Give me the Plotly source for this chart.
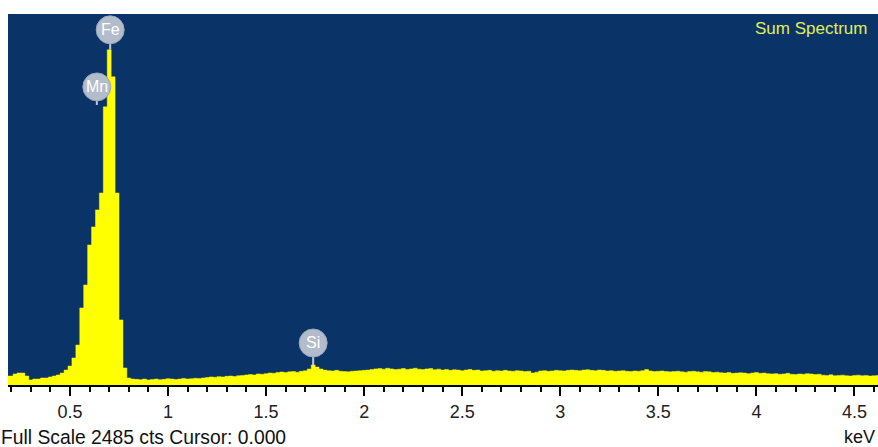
import plotly.graph_objects as go

# EDS sum spectrum, 20 eV channels
channel_start_kev = 0.18
channel_width_kev = 0.02
full_scale_cts = 2485

counts = [
    60, 60, 74, 80, 80, 60, 34, 40, 40, 47,
    47, 54, 60, 67, 80, 100, 127, 181, 268, 516,
    670, 938, 1059, 1173, 1286, 1863, 2245, 2064, 1286, 436,
    114, 47,
    40, 38, 36, 40, 34, 37, 40, 36, 38, 42, 40, 37, 40, 44, 40, 42, 45, 43, 47,
    50, 54, 52, 56, 54, 58, 60, 57, 62, 64,
    67, 70, 67, 74, 72, 76, 80, 78, 84,
    87, 84, 88, 90, 86, 92, 95,
    107, 134, 120, 107,
    100, 96, 94, 98, 92, 90, 88, 92, 94, 96,
    98, 100, 104, 108, 110, 106, 112, 108, 104,
    106, 110, 104, 108, 112, 106, 104, 108, 110, 102, 106,
    100, 104, 98, 102, 100, 96, 100, 104, 98, 100,
    94, 96, 98, 92, 96, 94, 98, 94, 92, 96, 94, 90, 92,
    80,
    86, 94, 96, 92, 94, 98, 96, 94, 98,
    100, 98, 96, 100, 102, 98, 96, 100, 98,
    94, 96, 92, 94, 96, 92, 90, 94,
    92, 96, 104, 94, 90, 92, 94, 90,
    88, 90, 92, 88, 86, 90, 92, 88, 86, 90, 88, 84, 86,
    82, 80, 84, 78, 80, 82, 80, 76, 80, 84, 78, 80, 76,
    74, 76, 72, 74, 78, 72, 70, 74, 72, 76, 74, 70, 72,
    66, 64, 68, 62, 64, 66, 62, 60, 64, 66, 62, 64, 60, 62, 64,
]

# element markers: symbol, line energy (keV), marker tip height (cts)
element_symbols = ["Fe", "Mn", "Si"]
element_kev = [0.705, 0.637, 1.740]
element_tip_cts = [2245, 1876, 134]
element_gap_px = [6, 4, 8]

tick_values = [0.5, 1, 1.5, 2, 2.5, 3, 3.5, 4, 4.5]
tick_labels = ["0.5", "1", "1.5", "2", "2.5", "3", "3.5", "4", "4.5"]

# channel edges for a stepped (histogram-style) trace
edges = [channel_start_kev - channel_width_kev / 2 + i * channel_width_kev
         for i in range(len(counts) + 1)]
steps = counts + [counts[-1]]

FONT = "Liberation Sans, Arial, sans-serif"
BG = "#0a3367"
YELLOW = "#ffff00"

fig = go.Figure()
fig.add_trace(go.Scatter(
    x=edges, y=steps, mode="lines", line_shape="hv",
    line=dict(color=YELLOW, width=0.5),
    fill="tozeroy", fillcolor=YELLOW, hoverinfo="skip", showlegend=False,
))

shapes = []
annotations = []
R = 14
for sym, kev, tip, gap in zip(element_symbols, element_kev, element_tip_cts, element_gap_px):
    shapes.append(dict(
        type="line", xref="x", yref="y", x0=kev, x1=kev,
        ysizemode="pixel", yanchor=tip, y0=0, y1=gap + 2,
        line=dict(color="#c3cad6", width=2), layer="above",
    ))
    shapes.append(dict(
        type="circle", xref="x", yref="y",
        xsizemode="pixel", xanchor=kev, x0=-R, x1=R,
        ysizemode="pixel", yanchor=tip, y0=gap, y1=gap + 2 * R,
        fillcolor="#b3bccb", line=dict(color="#9aa6b8", width=1), layer="above",
    ))
    annotations.append(dict(
        x=kev, y=tip, xref="x", yref="y", text=sym, showarrow=False,
        yshift=gap + R, font=dict(family=FONT, size=16, color="white"),
    ))

annotations += [
    dict(x=1, y=1, xref="paper", yref="paper", xanchor="right", yanchor="top",
         xshift=-9, yshift=-3, text="Sum Spectrum", showarrow=False,
         font=dict(family=FONT, size=17, color="#e2ee5a")),
    dict(x=0, y=0, xref="paper", yref="paper", xanchor="left", yanchor="middle",
         xshift=-9, yshift=-52, text=f"Full Scale {full_scale_cts} cts Cursor: 0.000",
         showarrow=False, font=dict(family=FONT, size=19.3, color="#111")),
    dict(x=1, y=0, xref="paper", yref="paper", xanchor="right", yanchor="middle",
         xshift=-1, yshift=-52, text="keV", showarrow=False,
         font=dict(family=FONT, size=18, color="#111")),
]

fig.update_layout(
    width=878, height=447,
    margin=dict(l=8, r=0, t=14, b=62),
    paper_bgcolor="white", plot_bgcolor=BG,
    shapes=shapes, annotations=annotations,
    xaxis=dict(
        range=[0.184, 4.62], tickmode="array", tickvals=tick_values, ticktext=tick_labels,
        ticks="outside", ticklen=9, tickwidth=1.5, tickcolor="black",
        showline=True, linecolor="black", linewidth=2,
        showgrid=False, zeroline=False,
        tickfont=dict(family=FONT, size=18, color="#222"),
        minor=dict(tick0=0, dtick=0.1, ticks="outside", ticklen=5,
                   tickwidth=1.5, tickcolor="black", showgrid=False),
    ),
    yaxis=dict(range=[0, full_scale_cts], visible=False, fixedrange=True),
)

fig.write_html("out.html")
